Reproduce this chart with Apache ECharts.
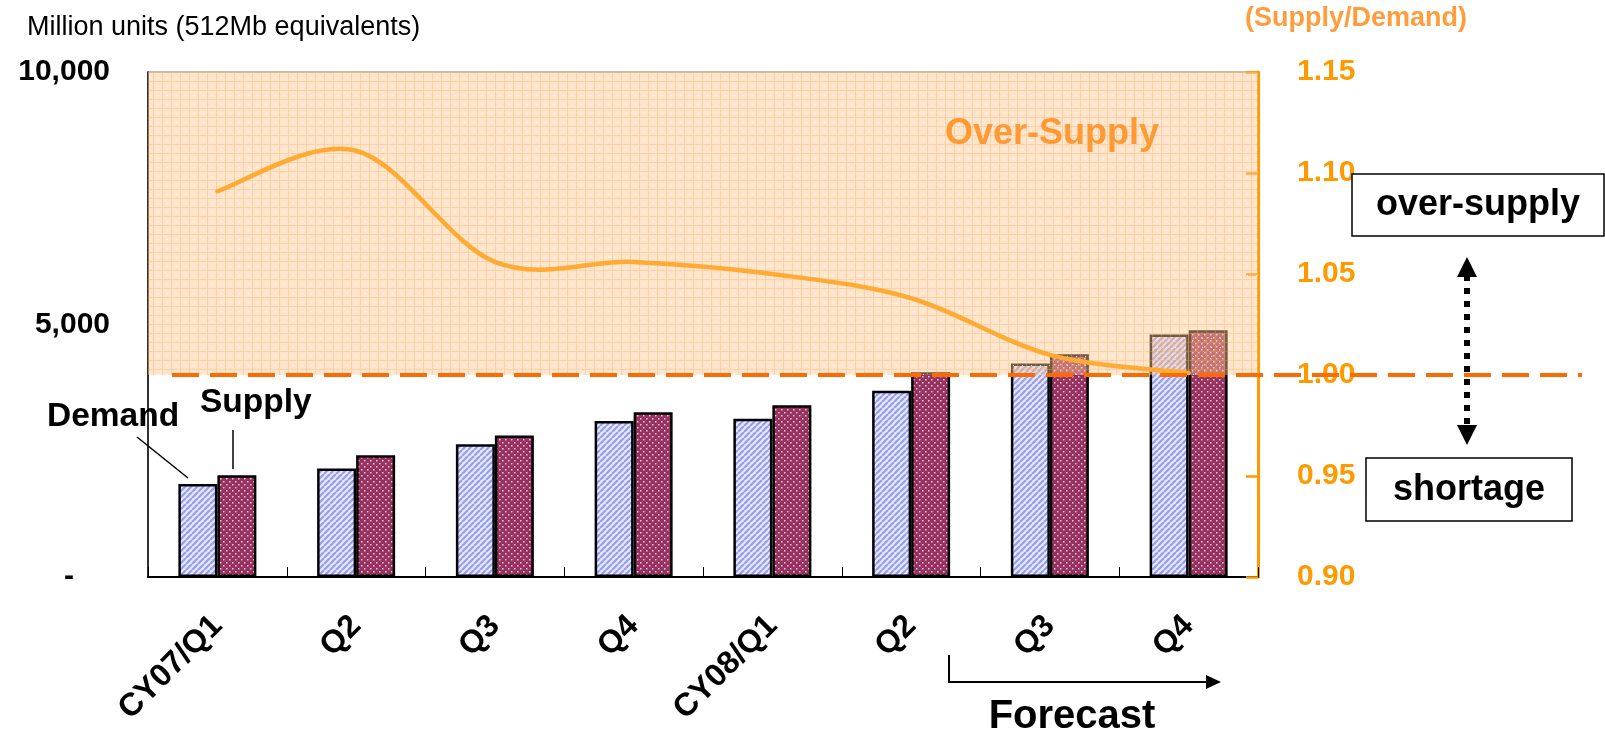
<!DOCTYPE html>
<html>
<head>
<meta charset="utf-8">
<script src="https://cdn.jsdelivr.net/npm/echarts@6/dist/echarts.min.js"></script>
<style>
  html, body { margin: 0; padding: 0; background: #ffffff; }
  #chart { width: 1605px; height: 730px; }
</style>
</head>
<body>
<div id="chart"></div>
<script>
// Quarterly DRAM bit demand / supply (million 512Mb-equivalent units)
const categories = ['CY07/Q1', 'Q2', 'Q3', 'Q4', 'CY08/Q1', 'Q2', 'Q3', 'Q4'];
const demand = [1840, 2150, 2630, 3090, 3135, 3690, 4230, 4800];
const supply = [2015, 2410, 2800, 3260, 3400, 4055, 4410, 4885];
// Supply/Demand ratio (right axis)
const ratio = [1.091, 1.111, 1.056, 1.056, 1.050, 1.038, 1.010, 1.001];
// Left axis tick labels
const unitTickLabels = { 0: '-', 5000: '5,000', 10000: '10,000' };
// Over-supply band on the ratio axis
const ratioBand = [1.00, 1.15];
const balanceRatio = 1.00;

const FONT = '"Liberation Sans", Arial, sans-serif';

// Fill patterns
function stripePattern() {
  const c = document.createElement('canvas');
  c.width = 6; c.height = 6;
  const g = c.getContext('2d');
  g.fillStyle = '#e6e8ff';
  g.fillRect(0, 0, 6, 6);
  g.strokeStyle = '#959ef0';
  g.lineWidth = 2.2;
  g.beginPath();
  for (let k = -6; k <= 12; k += 6) { g.moveTo(k, 6); g.lineTo(k + 6, 0); }
  g.stroke();
  return c;
}
function dotPattern() {
  const c = document.createElement('canvas');
  c.width = 6; c.height = 6;
  const g = c.getContext('2d');
  g.fillStyle = '#973260';
  g.fillRect(0, 0, 6, 6);
  g.fillStyle = '#f2c9dc';
  g.fillRect(1, 1, 1.5, 1.5);
  g.fillRect(4, 4, 1.5, 1.5);
  return c;
}
function bandPattern() {
  const c = document.createElement('canvas');
  c.width = 9; c.height = 9;
  const g = c.getContext('2d');
  g.fillStyle = 'rgba(253,197,142,0.45)';
  g.fillRect(0, 0, 9, 9);
  g.fillStyle = 'rgba(246,168,96,0.32)';
  g.fillRect(0, 0, 9, 1);
  g.fillRect(0, 1, 1, 8);
  g.fillStyle = 'rgba(255,255,255,0.7)';
  g.fillRect(5, 5, 1, 1);
  return c;
}

// Smoothed ratio curve (cardinal spline through every point, tension 1/6)
function renderRatioCurve(params, api) {
  if (params.dataIndex !== 0) return null;
  const pts = ratio.map((v, i) => api.coord([i, v]));
  const n = pts.length;
  let d = 'M' + pts[0][0] + ' ' + pts[0][1];
  for (let i = 0; i < n - 1; i++) {
    const p0 = pts[Math.max(i - 1, 0)];
    const p1 = pts[i];
    const p2 = pts[i + 1];
    const p3 = pts[Math.min(i + 2, n - 1)];
    const c1x = p1[0] + (p2[0] - p0[0]) / 6, c1y = p1[1] + (p2[1] - p0[1]) / 6;
    const c2x = p2[0] - (p3[0] - p1[0]) / 6, c2y = p2[1] - (p3[1] - p1[1]) / 6;
    d += ' C' + c1x + ' ' + c1y + ' ' + c2x + ' ' + c2y + ' ' + p2[0] + ' ' + p2[1];
  }
  return {
    type: 'path',
    shape: { pathData: d },
    style: { stroke: '#ffaa33', lineWidth: 4.5, fill: null, lineJoin: 'round', lineCap: 'round' }
  };
}

const chart = echarts.init(document.getElementById('chart'), null, { renderer: 'canvas' });

const option = {
  animation: false,
  backgroundColor: '#ffffff',
  grid: {
    left: 148, right: 347, top: 72, bottom: 153,
    show: true, borderColor: '#b3a595', borderWidth: 1.5, backgroundColor: 'transparent'
  },
  xAxis: {
    type: 'category',
    data: categories,
    axisLine: { lineStyle: { color: '#000', width: 2 } },
    axisTick: { show: true, inside: true, length: 10, lineStyle: { color: '#000', width: 1 } },
    axisLabel: {
      rotate: 45, margin: 44, color: '#000',
      fontFamily: FONT, fontWeight: 'bold', fontSize: 32, interval: 0
    },
    splitLine: { show: false }
  },
  yAxis: [
    {
      type: 'value', min: 0, max: 10000, interval: 5000,
      axisLine: { show: true, lineStyle: { color: '#000', width: 1.5 } },
      axisTick: { show: false },
      splitLine: { show: false },
      axisLabel: {
        margin: 38, color: '#000', fontFamily: FONT, fontWeight: 'bold', fontSize: 30,
        formatter: v => v === 0 ? '{dash|-}' : unitTickLabels[v],
        rich: { dash: { padding: [0, 36, 0, 0], fontFamily: FONT, fontWeight: 'bold', fontSize: 30, color: '#000' } }
      }
    },
    {
      type: 'value', position: 'right', min: 0.9, max: 1.15, interval: 0.05,
      axisLine: { show: true, lineStyle: { color: '#ff9900', width: 3 } },
      axisTick: { show: true, inside: true, length: 12, lineStyle: { color: '#ff9900', width: 2.5 } },
      splitLine: { show: false },
      axisLabel: {
        margin: 39, color: '#ff9900', fontFamily: FONT, fontWeight: 'bold', fontSize: 30,
        formatter: v => v.toFixed(2)
      }
    }
  ],
  series: [
    {
      name: 'Demand', type: 'bar', data: demand, barWidth: 39, barGap: '0%', z: 2,
      itemStyle: { color: { image: stripePattern(), repeat: 'repeat' }, borderColor: '#000', borderWidth: 2.5 }
    },
    {
      name: 'Supply', type: 'bar', data: supply, barWidth: 39, barGap: '0%', z: 2,
      itemStyle: { color: { image: dotPattern(), repeat: 'repeat' }, borderColor: '#000', borderWidth: 2.5 }
    },
    {
      name: 'Over-supply band', type: 'line', yAxisIndex: 1, data: [], z: 3,
      markArea: {
        z: 3,
        silent: true,
        itemStyle: { color: { image: bandPattern(), repeat: 'repeat' } },
        data: [[{ yAxis: ratioBand[0] }, { yAxis: ratioBand[1] }]]
      }
    },
    {
      name: 'Supply/Demand', type: 'custom', yAxisIndex: 1, z: 4,
      data: ratio.map((v, i) => [i, v]),
      renderItem: renderRatioCurve
    }
  ]
};
chart.setOption(option);

// Annotations
const yBal = chart.convertToPixel({ yAxisIndex: 1 }, balanceRatio);

function label(text, x, y, size, color, align, weight) {
  return {
    type: 'text', x: x, y: y, z: 50,
    style: {
      text: text, fill: color,
      font: (weight || 'bold') + ' ' + size + 'px ' + FONT,
      textAlign: align || 'left', align: align || 'left',
      textVerticalAlign: 'middle', verticalAlign: 'middle'
    }
  };
}

chart.setOption({
  graphic: [
    label('Million units (512Mb equivalents)', 27, 28, 27, '#000', 'left', 'normal'),
    label('(Supply/Demand)', 1245, 19, 27, '#ff9d3c', 'left'),
    label('Over-Supply', 1052, 134, 36, '#ff9933', 'center'),
    label('Demand', 47, 417, 33.5, '#000', 'left'),
    label('Supply', 200, 403, 33.5, '#000', 'left'),
    { type: 'line', z: 50, shape: { x1: 137, y1: 437, x2: 188, y2: 478 }, style: { stroke: '#000', lineWidth: 1.5 } },
    { type: 'line', z: 50, shape: { x1: 233, y1: 430, x2: 233, y2: 469 }, style: { stroke: '#000', lineWidth: 1.5 } },
    // balance line at ratio 1.00
    { type: 'line', z: 60, shape: { x1: 172, y1: yBal, x2: 1582, y2: yBal },
      style: { stroke: '#ff6a00', lineWidth: 4, lineDash: [27, 11] } },
    // over-supply / shortage legend
    { type: 'rect', z: 50, shape: { x: 1352, y: 174, width: 252, height: 62 }, style: { fill: '#fff', stroke: '#000', lineWidth: 1.5 } },
    label('over-supply', 1478, 205, 36, '#000', 'center'),
    { type: 'rect', z: 50, shape: { x: 1366, y: 458, width: 206, height: 63 }, style: { fill: '#fff', stroke: '#000', lineWidth: 1.5 } },
    label('shortage', 1469, 490, 36, '#000', 'center'),
    { type: 'line', z: 50, shape: { x1: 1467, y1: 275, x2: 1467, y2: 427 }, style: { stroke: '#000', lineWidth: 6, lineDash: [6, 7] } },
    { type: 'polygon', z: 50, shape: { points: [[1467, 257], [1457, 277], [1477, 277]] }, style: { fill: '#000' } },
    { type: 'polygon', z: 50, shape: { points: [[1467, 445], [1457, 425], [1477, 425]] }, style: { fill: '#000' } },
    // forecast marker
    { type: 'polyline', z: 50, shape: { points: [[949, 655], [949, 682], [1208, 682]] }, style: { stroke: '#000', lineWidth: 2, fill: null } },
    { type: 'polygon', z: 50, shape: { points: [[1221, 682], [1206, 675], [1206, 689]] }, style: { fill: '#000' } },
    label('Forecast', 1072, 717, 40, '#000', 'center')
  ]
});
</script>
</body>
</html>
